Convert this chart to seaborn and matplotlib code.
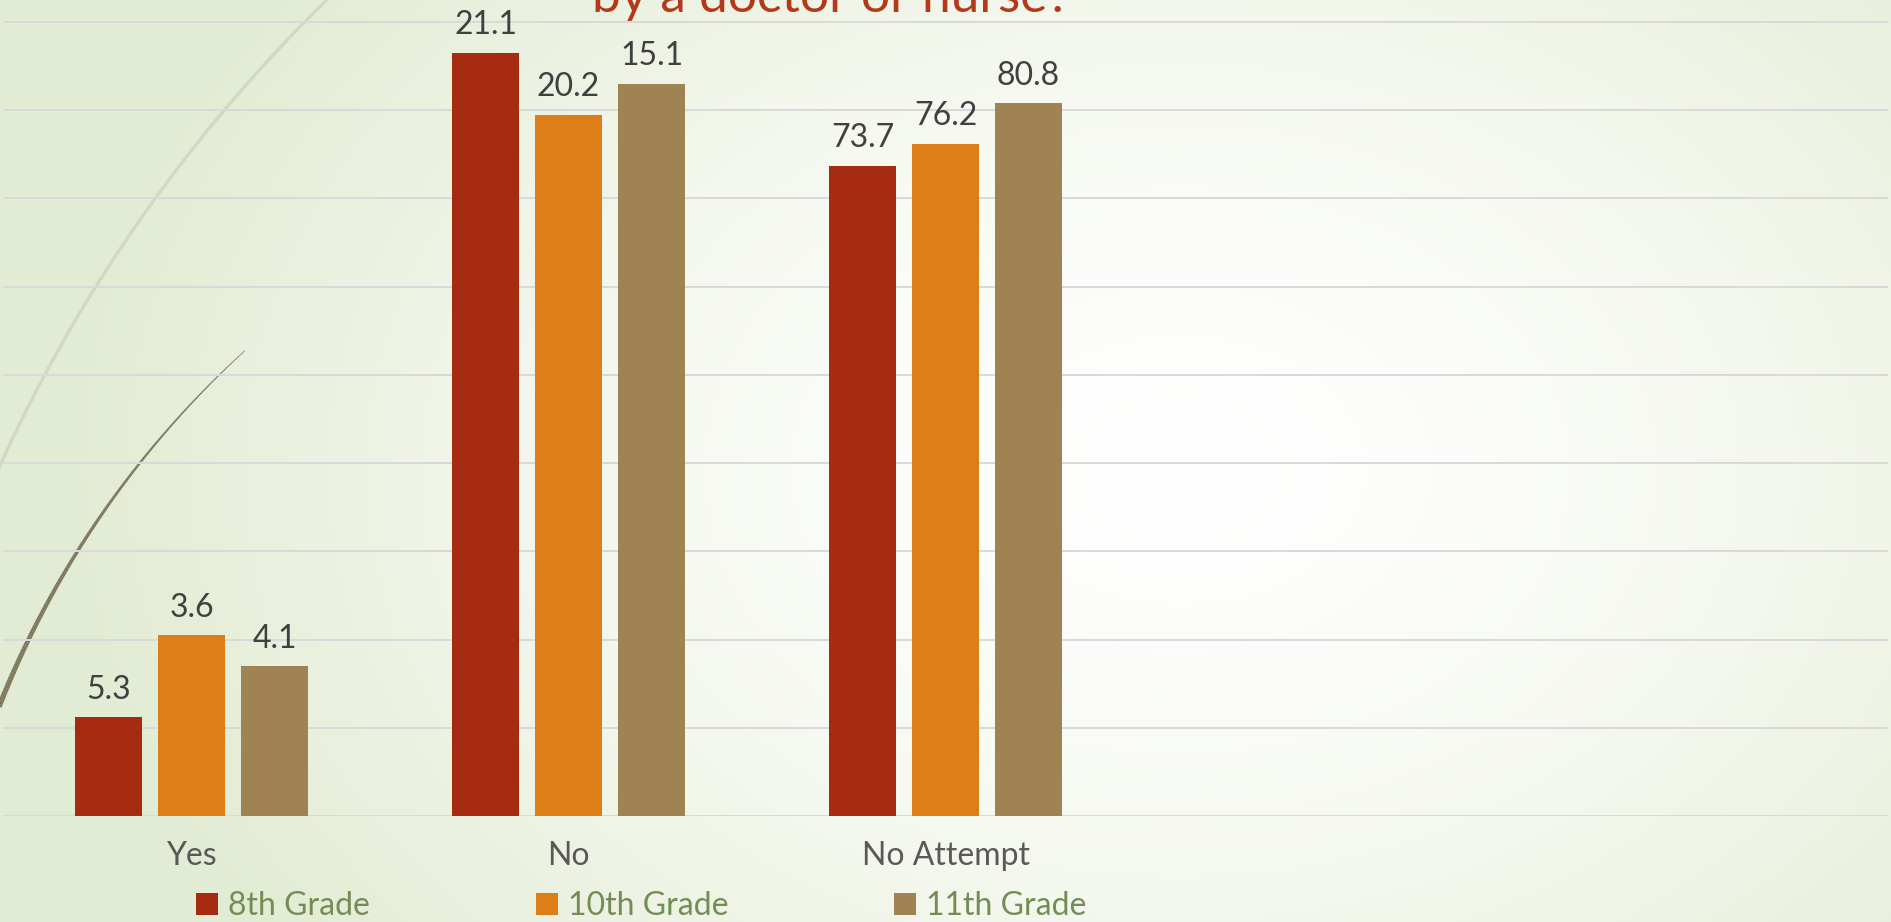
import numpy as np
import pandas as pd
import matplotlib
matplotlib.use("Agg")
import matplotlib.pyplot as plt
import seaborn as sns
from matplotlib.patches import Patch
from matplotlib.collections import LineCollection

# Chart data
categories = ["Yes", "No", "No Attempt"]
grades = ["8th Grade", "10th Grade", "11th Grade"]
# bar heights as drawn on the slide
yes_vals = [11.2, 20.5, 17.0]
no_vals = [86.5, 79.5, 83.0]
noatt_vals = [73.7, 76.2, 80.8]
# data labels printed above the bars
yes_labels = ["5.3", "3.6", "4.1"]
no_labels = ["21.1", "20.2", "15.1"]
noatt_labels = ["73.7", "76.2", "80.8"]
grade_colors = ["#A52C10", "#DE7E18", "#9F8352"]
title_text = "by a doctor or nurse?"

rows = []
for cat, vals in zip(categories, [yes_vals, no_vals, noatt_vals]):
    for g, v in zip(grades, vals):
        rows.append({"category": cat, "grade": g, "value": v})
df = pd.DataFrame(rows)

sns.set_theme(style="white")
plt.rcParams["font.family"] = ["Lato", "DejaVu Sans"]

W, H = 1891, 922
fig = plt.figure(figsize=(W / 100, H / 100), dpi=100)

# slide background: soft radial gradient, white centre -> pale green
bg = fig.add_axes([0, 0, 1, 1], zorder=-10)
yy, xx = np.mgrid[0:H, 0:W]
dist = np.sqrt(((xx - 1180) / 1100.0) ** 2 + ((yy - 470) / 800.0) ** 2)
t = np.clip(dist, 0, 1) ** 1.5
white = np.array([1.0, 1.0, 1.0])
green = np.array([0.89, 0.925, 0.83])
img = white[None, None, :] * (1 - t[..., None]) + green[None, None, :] * t[..., None]
bg.imshow(img, extent=[0, W, H, 0], aspect="auto")
bg.set_xlim(0, W)
bg.set_ylim(H, 0)
bg.axis("off")

# decorative arcs on the left
th = np.radians(np.linspace(200, 228, 200))
bg.plot(1393 + 1529 * np.cos(th), 1096 + 1529 * np.sin(th), color="#D3D8C3", lw=2.4)
th = np.radians(np.linspace(199, 227.7, 200))
px = 889 + 957 * np.cos(th)
py = 1058.5 + 957 * np.sin(th)
pts = np.column_stack([px, py]).reshape(-1, 1, 2)
segs = np.concatenate([pts[:-1], pts[1:]], axis=1)
widths = np.linspace(4.2, 0.5, len(segs))
bg.add_collection(LineCollection(segs, linewidths=widths, colors="#7B7559"))

# main chart
ax = fig.add_axes([3 / W, 106 / H, 1885 / W, 816 / H])
ax.patch.set_alpha(0)
sns.barplot(
    data=df, x="category", y="value", hue="grade",
    order=categories, hue_order=grades, palette=grade_colors,
    width=0.66, gap=0.2, saturation=1, legend=False, linewidth=0, ax=ax,
)

label_sets = [yes_labels, no_labels, noatt_labels]
for i, cont in enumerate(ax.containers):
    ax.bar_label(cont, labels=[ls[i] for ls in label_sets], padding=9,
                 fontsize=23, color="#404040")

ax.set_xlim(-0.5, 4.5)
ax.set_ylim(0, 92.5)
ax.set_yticks(np.arange(0, 91, 10))
ax.set_yticklabels([])
ax.yaxis.grid(True, color="#D9D9D9", lw=1.4)
ax.set_axisbelow(True)
for s in ax.spines.values():
    s.set_visible(False)
ax.set_xlabel("")
ax.set_ylabel("")
ax.tick_params(axis="x", length=0, pad=18, labelsize=23, labelcolor="#595959")
ax.tick_params(axis="y", length=0)

handles = [Patch(facecolor=c, edgecolor="none") for c in grade_colors]
fig.legend(handles, grades, loc="center", bbox_to_anchor=(0.339, 0.0174), ncol=3,
           frameon=False, fontsize=23, labelcolor="#738D55",
           handlelength=0.7, handleheight=0.7, handletextpad=0.3,
           columnspacing=5.2)

fig.text(831 / W, 1 - 12 / H, title_text, ha="center", va="baseline",
         fontsize=37, color="#B3391B")

fig.savefig("out.png", dpi=100)
